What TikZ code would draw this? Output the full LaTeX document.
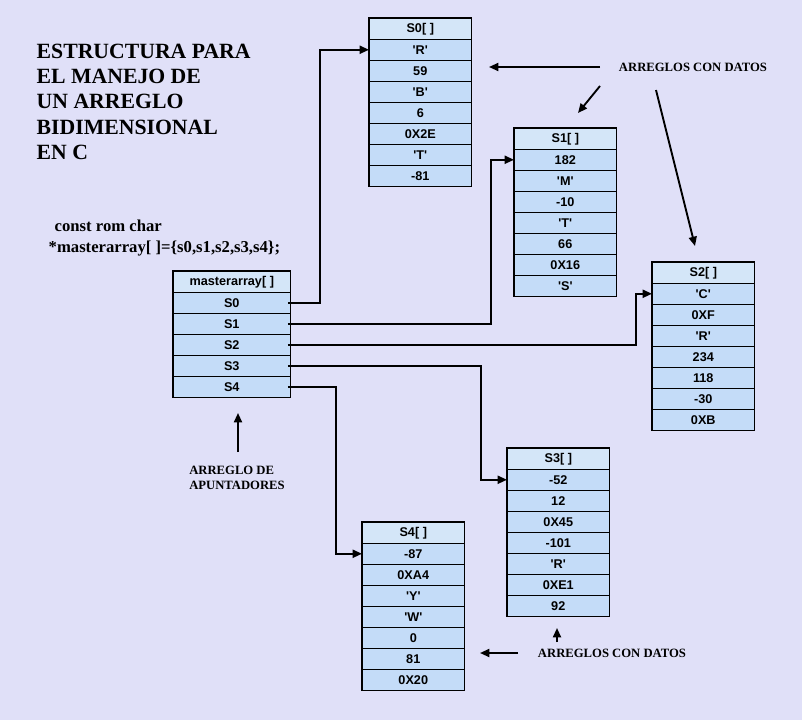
\documentclass[tikz,border=0pt]{standalone}
\usepackage{fontspec}
\setmainfont{Liberation Serif}
\newfontfamily\arial{Liberation Sans}
\usetikzlibrary{arrows.meta}
\definecolor{fondo}{HTML}{E0E0F8}
\definecolor{celda}{HTML}{C4DCF8}
\definecolor{cabeza}{HTML}{D4E6F8}
\tikzset{
    celda/.style={rectangle,draw=black,fill=celda,minimum width=76.5pt,minimum height=15.75pt,
        inner sep=0,font=\arial\bfseries\fontsize{9.5}{9.5}\selectfont},
    cabeza/.style={celda,fill=cabeza},
    borde/.style={draw=black,line width=1.2pt},
    flecha/.style={line width=1.4pt,-{Triangle[length=7pt,width=6pt]}},
    nota/.style={font=\bfseries\fontsize{9.5}{11}\selectfont,align=left}
}
% tabla: nombre, x, y (esquina superior izquierda), ancho, titulo, datos
\newcommand{\arreglo}[6]{
    \node[cabeza,anchor=north west,minimum width=#4] (#1-0) at (#2,#3) {#5};
    \foreach \v [count=\i] in {#6} {
        \node[celda,anchor=north west,minimum width=#4] (#1-\i) at (#2,#3+21*\i) {\v};
    }
}
\begin{document}
\begin{tikzpicture}[x=0.75pt,y=-0.75pt]
    \fill[fondo] (0,0) rectangle (802,720);
    \useasboundingbox (0,0) rectangle (802,720);
    % titulo
    \node[anchor=north west,font=\bfseries\fontsize{16.3}{19}\selectfont,align=left] (titulo) at (32,39)
        {ESTRUCTURA PARA\\EL MANEJO DE\\UN ARREGLO\\BIDIMENSIONAL\\EN C};
    \node[anchor=west,font=\bfseries\fontsize{12.5}{12.5}\selectfont] (decl1) at (50,226) {const rom char};
    \node[anchor=west,font=\bfseries\fontsize{12.5}{12.5}\selectfont] (decl2) at (44,249) {*masterarray[ ]=\{s0,s1,s2,s3,s4\};};
    % arreglos
    \arreglo{ma}{173}{271}{87.75pt}{masterarray[ ]}{S0,S1,S2,S3,S4}
    \arreglo{s0}{369}{18}{76.5pt}{S0[ ]}{'R',59,'B',6,0X2E,'T',-81}
    \arreglo{s1}{514}{128}{76.5pt}{S1[ ]}{182,'M',-10,'T',66,0X16,'S'}
    \arreglo{s2}{652}{262}{76.5pt}{S2[ ]}{'C',0XF,'R',234,118,-30,0XB}
    \arreglo{s3}{507}{448}{76.5pt}{S3[ ]}{-52,12,0X45,-101,'R',0XE1,92}
    \arreglo{s4}{362}{522}{76.5pt}{S4[ ]}{-87,0XA4,'Y','W',0,81,0X20}
    \draw[borde] (ma-0.north west) rectangle (ma-5.south east);
    \draw[borde] (s0-0.north west) rectangle (s0-7.south east);
    \draw[borde] (s1-0.north west) rectangle (s1-7.south east);
    \draw[borde] (s2-0.north west) rectangle (s2-7.south east);
    \draw[borde] (s3-0.north west) rectangle (s3-7.south east);
    \draw[borde] (s4-0.north west) rectangle (s4-7.south east);
    % apuntadores
    \coordinate (c0) at (320,0);
    \coordinate (c1) at (491,0);
    \coordinate (c2) at (636,0);
    \coordinate (c3) at (481,0);
    \coordinate (c4) at (336,0);
    \draw[flecha] ([xshift=-2pt]ma-1.east) -- (ma-1.east -| c0) |- (s0-1.west);
    \draw[flecha] ([xshift=-2pt]ma-2.east) -- (ma-2.east -| c1) |- (s1-1.west);
    \draw[flecha] ([xshift=-2pt]ma-3.east) -- (ma-3.east -| c2) |- (s2-1.west);
    \draw[flecha] ([xshift=-2pt]ma-4.east) -- (ma-4.east -| c3) |- (s3-1.west);
    \draw[flecha] ([xshift=-2pt]ma-5.east) -- (ma-5.east -| c4) |- (s4-1.west);
    % notas
    \node[nota] (datos1) at (693,67) {ARREGLOS CON DATOS};
    \node[nota] (datos2) at (612,653) {ARREGLOS CON DATOS};
    \node[nota] (apunt) at (237,478) {ARREGLO DE\\APUNTADORES};
    \coordinate (d1a) at (489,67);
    \coordinate (d1b) at (578,113);
    \coordinate (d1c) at (695,246);
    \coordinate (d2a) at (480,653);
    \coordinate (d2b) at (557,628);
    \coordinate (ap) at (238,413);
    \draw[flecha] (600,67) -- (d1a);
    \draw[flecha] (600,86) -- (d1b);
    \draw[flecha] (656,90) -- (d1c);
    \draw[flecha] (518,653) -- (d2a);
    \draw[flecha] (557,642) -- (d2b);
    \draw[flecha] (238,452) -- (ap);
\end{tikzpicture}
\end{document}
